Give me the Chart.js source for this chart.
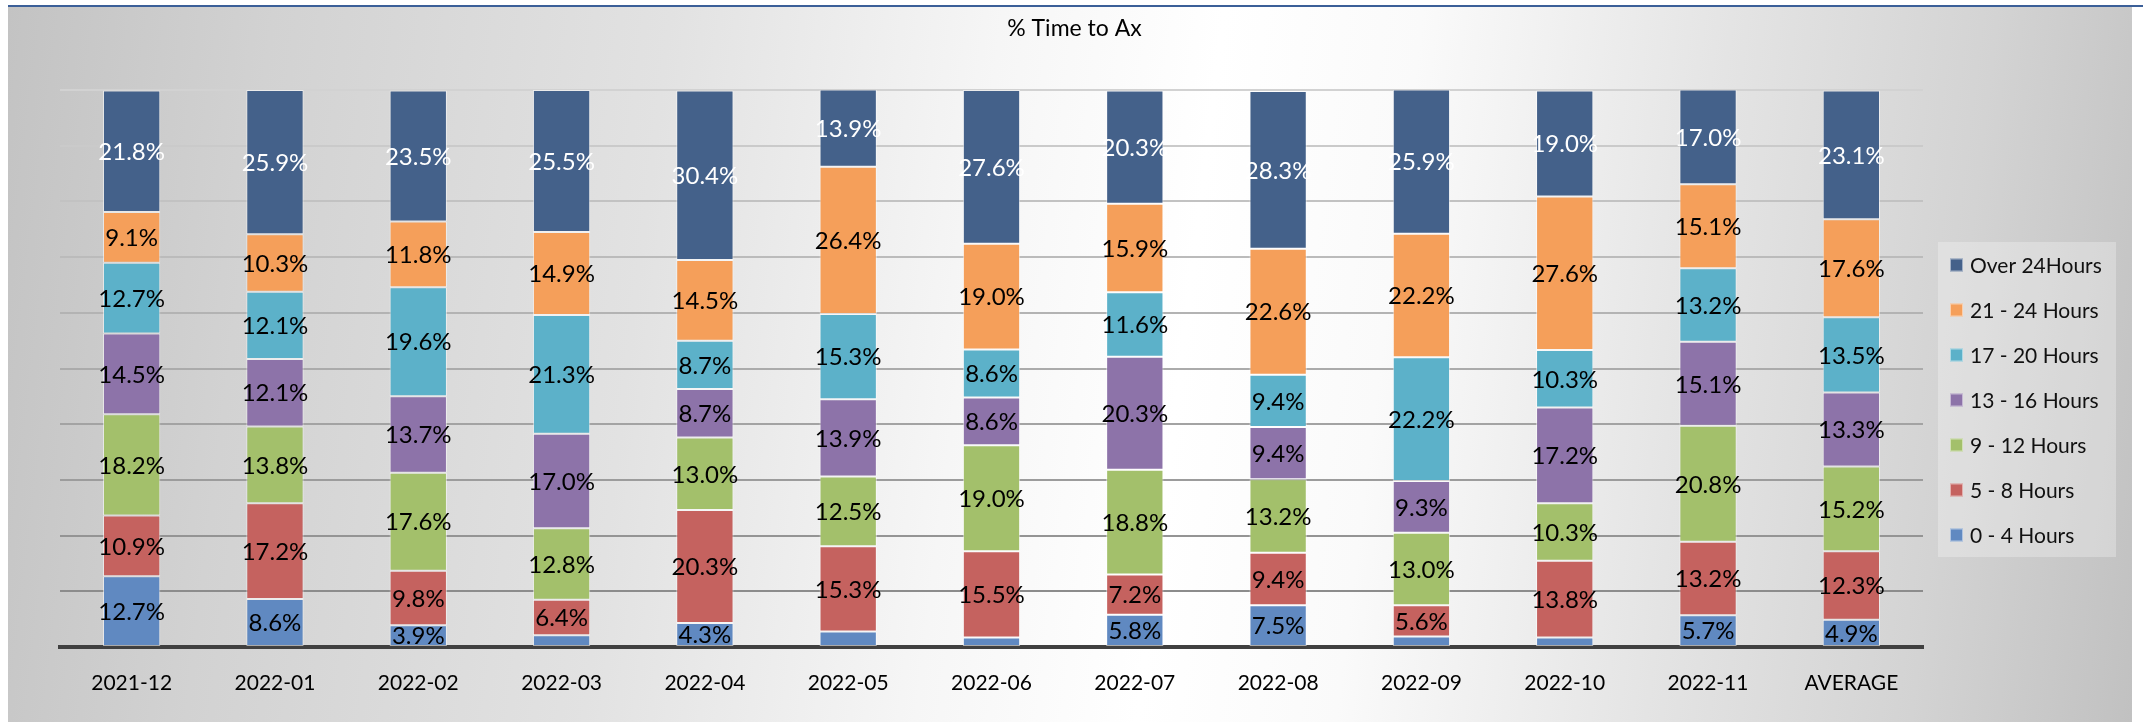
<!DOCTYPE html>
<html>
<head>
<meta charset="utf-8">
<script src="https://cdn.jsdelivr.net/npm/chart.js@4"></script>
<style>
  body { margin: 0; width: 2149px; height: 727px; background: #fff; position: relative; overflow: hidden; }
  #bg {
    position: absolute; left: 8px; top: 7px; width: 2124px; height: 715px;
    background: linear-gradient(97deg, #c3c3c3 0%, #d2d2d2 12%, #e2e2e2 30%, #f6f6f6 45%, #ffffff 55%, #fafafa 64%, #e4e4e4 78%, #d3d3d3 90%, #c1c1c1 100%);
  }
  #topline { position: absolute; left: 8px; top: 5px; width: 2135px; height: 2px; background: #3b5f98; }
  #chart { position: absolute; left: 0; top: 0; }
</style>
</head>
<body>
<div id="bg"></div>
<div id="topline"></div>
<canvas id="chart" width="2149" height="727"></canvas>
<script>
const months = ["2021-12", "2022-01", "2022-02", "2022-03", "2022-04", "2022-05", "2022-06",
                "2022-07", "2022-08", "2022-09", "2022-10", "2022-11", "AVERAGE"];

// % share per bucket (small unlabeled slices estimated)
const hours0to4   = [12.7, 8.6, 3.9, 2.1, 4.3, 2.8, 1.7, 5.8, 7.5, 1.9, 1.7, 5.7, 4.9];
const hours5to8   = [10.9, 17.2, 9.8, 6.4, 20.3, 15.3, 15.5, 7.2, 9.4, 5.6, 13.8, 13.2, 12.3];
const hours9to12  = [18.2, 13.8, 17.6, 12.8, 13.0, 12.5, 19.0, 18.8, 13.2, 13.0, 10.3, 20.8, 15.2];
const hours13to16 = [14.5, 12.1, 13.7, 17.0, 8.7, 13.9, 8.6, 20.3, 9.4, 9.3, 17.2, 15.1, 13.3];
const hours17to20 = [12.7, 12.1, 19.6, 21.3, 8.7, 15.3, 8.6, 11.6, 9.4, 22.2, 10.3, 13.2, 13.5];
const hours21to24 = [9.1, 10.3, 11.8, 14.9, 14.5, 26.4, 19.0, 15.9, 22.6, 22.2, 27.6, 15.1, 17.6];
const over24      = [21.8, 25.9, 23.5, 25.5, 30.4, 13.9, 27.6, 20.3, 28.3, 25.9, 19.0, 17.0, 23.1];

const yTicks = [0, 10, 20, 30, 40, 50, 60, 70, 80, 90, 100];

const series = [
  { label: "0 - 4 Hours",   data: hours0to4,   color: "#6089c1", text: "#000" },
  { label: "5 - 8 Hours",   data: hours5to8,   color: "#c5625f", text: "#000" },
  { label: "9 - 12 Hours",  data: hours9to12,  color: "#a3c06b", text: "#000" },
  { label: "13 - 16 Hours", data: hours13to16, color: "#8d73a9", text: "#000" },
  { label: "17 - 20 Hours", data: hours17to20, color: "#5cb1c9", text: "#000" },
  { label: "21 - 24 Hours", data: hours21to24, color: "#f59f5a", text: "#000" },
  { label: "Over 24Hours",  data: over24,      color: "#44618a", text: "#fff" }
];

const FONT = "Lato, 'Open Sans', sans-serif";

// labels centred in each slice, tiny slices left blank like the original
const sliceLabels = {
  id: "sliceLabels",
  afterDatasetsDraw(chart) {
    const ctx = chart.ctx;
    ctx.save();
    ctx.font = "24px " + FONT;
    ctx.textAlign = "center";
    ctx.textBaseline = "middle";
    chart.data.datasets.forEach((ds, i) => {
      chart.getDatasetMeta(i).data.forEach((bar, j) => {
        const v = ds.data[j];
        if (v < 3) return;
        const { x, y, base } = bar.getProps(["x", "y", "base"], true);
        ctx.fillStyle = series[i].text;
        ctx.fillText(v.toFixed(1) + "%", x, (y + base) / 2 + 1);
      });
    });
    ctx.restore();
  }
};

// legend box on the right, top entry = top slice
const sideLegend = {
  id: "sideLegend",
  afterDraw(chart) {
    const ctx = chart.ctx;
    ctx.save();
    ctx.fillStyle = "rgba(255,255,255,0.28)";
    ctx.fillRect(1938, 242, 178, 315);
    ctx.font = "21px " + FONT;
    ctx.textBaseline = "middle";
    ctx.textAlign = "left";
    series.slice().reverse().forEach((s, k) => {
      const cy = 265 + k * 45;
      ctx.fillStyle = s.color;
      ctx.fillRect(1950, cy - 6.5, 13, 13);
      ctx.strokeStyle = "rgba(255,255,255,0.5)";
      ctx.lineWidth = 1;
      ctx.strokeRect(1950.5, cy - 6, 12, 12);
      ctx.fillStyle = "#111";
      ctx.fillText(s.label, 1970, cy + 1);
    });
    ctx.restore();
  }
};

function gridColor(ctx) {
  const v = ctx.tick ? ctx.tick.value : 0;
  const t = (v - 10) / 90;           // 0 at 10%, 1 at 100%
  const c = Math.round(140 + t * 70);
  return `rgb(${c},${c},${c})`;
}

new Chart(document.getElementById("chart"), {
  type: "bar",
  data: {
    labels: months,
    datasets: series.map(s => ({
      label: s.label,
      data: s.data,
      backgroundColor: s.color,
      borderColor: "rgba(255,255,255,0.55)",
      borderWidth: 1,
      borderSkipped: false,
      barPercentage: 0.4,
      categoryPercentage: 1
    }))
  },
  options: {
    responsive: false,
    animation: false,
    layout: { padding: 0 },
    plugins: {
      legend: { display: false },
      tooltip: { enabled: false },
      title: {
        display: true,
        text: "% Time to Ax",
        color: "#000",
        font: { family: FONT, size: 23, weight: "normal", lineHeight: 1.2 },
        padding: { top: 15, bottom: 47.4 }
      }
    },
    scales: {
      x: {
        stacked: true,
        grid: { display: false },
        border: { display: true, color: "#404040", width: 4 },
        ticks: { color: "#000", font: { family: FONT, size: 21 }, padding: 16, maxRotation: 0 },
        afterFit: s => { s.height = 80; }
      },
      y: {
        stacked: true,
        min: 0,
        max: 100,
        afterBuildTicks: s => { s.ticks = yTicks.map(v => ({ value: v })); },
        ticks: { display: false },
        grid: { color: gridColor, lineWidth: 2, drawTicks: false },
        border: { display: false },
        afterFit: s => { s.width = 60; }
      },
      yRight: {
        position: "right",
        display: true,
        grid: { display: false },
        ticks: { display: false },
        border: { display: false },
        afterFit: s => { s.width = 226; }
      }
    }
  },
  plugins: [sliceLabels, sideLegend]
});
</script>
</body>
</html>
